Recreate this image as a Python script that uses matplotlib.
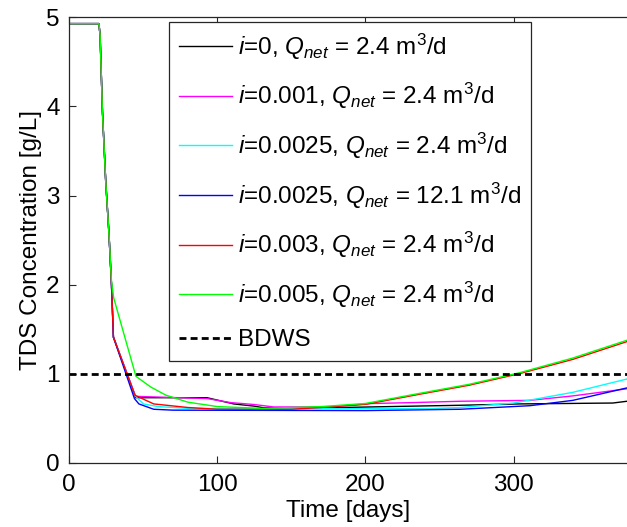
import matplotlib
matplotlib.use("Agg")
import matplotlib.pyplot as plt

plt.rcParams['font.family'] = ['Liberation Sans', 'DejaVu Sans']
plt.rcParams['mathtext.fontset'] = 'custom'
plt.rcParams['mathtext.rm'] = 'Liberation Sans'
plt.rcParams['mathtext.it'] = 'Liberation Sans:italic'
plt.rcParams['mathtext.bf'] = 'Liberation Sans:bold'

# ---- data ----
t_black = [0, 20, 20.8, 22.4, 24.6, 26.8, 28.5, 29.8, 44.8, 93, 111, 125, 131, 170, 203, 264, 304, 367, 376.6]
v_black = [4.93, 4.93, 4.80, 3.94, 3.16, 2.57, 2.00, 1.41, 0.73, 0.73, 0.66, 0.635, 0.617, 0.615, 0.626, 0.645, 0.66, 0.67, 0.69]

t_magenta = [0, 20, 20.8, 22.4, 24.6, 26.8, 28.5, 29.8, 44.8, 93, 109, 125, 138, 176, 203, 232, 264, 311, 340, 376.6]
v_magenta = [4.93, 4.93, 4.80, 3.94, 3.16, 2.57, 2.00, 1.41, 0.745, 0.72, 0.675, 0.653, 0.626, 0.626, 0.664, 0.675, 0.69, 0.70, 0.75, 0.83]

t_cyan = [0, 20, 20.8, 22.4, 24.6, 26.8, 28.5, 29.8, 44.5, 50, 60, 80, 120, 245, 264, 300, 340, 376.6]
v_cyan = [4.93, 4.93, 4.80, 3.94, 3.16, 2.57, 2.00, 1.41, 0.75, 0.66, 0.63, 0.61, 0.605, 0.608, 0.62, 0.67, 0.79, 0.94]

t_blue = [0, 20, 20.8, 22.4, 24.6, 26.8, 28.5, 29.8, 44, 47, 57, 70, 200, 264, 311, 340, 376.6]
v_blue = [4.93, 4.93, 4.80, 3.94, 3.16, 2.57, 2.00, 1.41, 0.72, 0.66, 0.60, 0.59, 0.585, 0.60, 0.64, 0.70, 0.84]

t_red = [0, 20, 20.8, 22.4, 24.6, 26.8, 28.5, 29.8, 44.4, 57, 80, 100, 150, 170, 200, 237, 270, 304, 340, 376.6]
v_red = [4.93, 4.93, 4.80, 3.94, 3.16, 2.57, 2.00, 1.41, 0.757, 0.66, 0.62, 0.60, 0.60, 0.62, 0.655, 0.77, 0.87, 1.00, 1.16, 1.36]

t_green = [0, 20, 20.8, 22.4, 24.6, 26.8, 28.5, 30, 45, 55, 65, 80, 100, 130, 170, 200, 237, 270, 304, 340, 376.6]
v_green = [4.93, 4.93, 4.80, 3.94, 3.16, 2.57, 2.04, 1.85, 0.97, 0.85, 0.76, 0.68, 0.63, 0.61, 0.63, 0.665, 0.78, 0.88, 1.01, 1.175, 1.375]

bdws = 1.0

series = [
    (t_black, v_black, 'k', r'$i$=0, $Q_{net}$ = 2.4 m$^3$/d'),
    (t_magenta, v_magenta, '#ff00ff', r'$i$=0.001, $Q_{net}$ = 2.4 m$^3$/d'),
    (t_cyan, v_cyan, '#00ffff', r'$i$=0.0025, $Q_{net}$ = 2.4 m$^3$/d'),
    (t_blue, v_blue, '#0000ff', r'$i$=0.0025, $Q_{net}$ = 12.1 m$^3$/d'),
    (t_red, v_red, '#ff0000', r'$i$=0.003, $Q_{net}$ = 2.4 m$^3$/d'),
    (t_green, v_green, '#00ff00', r'$i$=0.005, $Q_{net}$ = 2.4 m$^3$/d'),
]

fig = plt.figure(figsize=(6.27, 5.27), dpi=100)
ax = fig.add_axes([0.1105, 0.122, 1.0 - 0.1105, 0.967 - 0.122])

for t, v, c, lab in series:
    ax.plot(t, v, color=c, lw=1.0, label=lab)
ax.axhline(bdws, color='k', lw=2.0, dashes=(2.5, 1.5), label='BDWS')

ax.set_xlim(0, 376.6)
ax.set_ylim(0, 5)
ax.set_xticks([0, 100, 200, 300])
ax.set_yticks([0, 1, 2, 3, 4, 5])
ax.tick_params(direction='in', length=5, width=0.8, labelsize=17.5, top=True, right=False,
               colors='#262626', labelcolor='k')
ax.tick_params(axis='x', pad=8)
ax.tick_params(axis='y', pad=7)
ax.spines['right'].set_visible(False)
for s in ['left', 'top', 'bottom']:
    ax.spines[s].set_color('#262626')
    ax.spines[s].set_linewidth(0.9)

ax.set_xlabel('Time [days]', fontsize=17.5, labelpad=3)
ax.set_ylabel('TDS Concentration [g/L]', fontsize=17.5, labelpad=3)

leg = ax.legend(loc='upper left', bbox_to_anchor=(0.179, 0.990), borderaxespad=0,
                fontsize=17.5, frameon=True, fancybox=False, framealpha=1,
                edgecolor='#262626', handlelength=2.18, handletextpad=0.25,
                labelspacing=0.8, borderpad=0.4)
leg.get_frame().set_linewidth(0.9)

fig.savefig('out.png', dpi=100)
